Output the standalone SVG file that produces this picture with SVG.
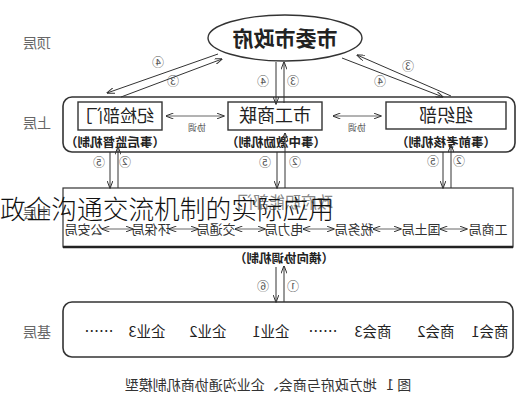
<svg xmlns="http://www.w3.org/2000/svg" width="527" height="400" viewBox="0 0 527 400">
<defs>
<marker id="ah" viewBox="0 0 8 6" refX="7.5" refY="3" markerWidth="8" markerHeight="6" markerUnits="userSpaceOnUse" orient="auto-start-reverse">
<path d="M0,0 L8,3 L0,6" fill="none" stroke="#333" stroke-width="1"/>
</marker>
<style>
text{font-family:"Noto Sans CJK SC","Noto Sans CJK JP",sans-serif;}
.lay{font-size:14px;fill:#666;text-anchor:middle;}
.box{fill:#fff;stroke:#333;stroke-width:1.4;}
.frame{fill:none;stroke:#333;stroke-width:1.6;}
.nm{font-size:18px;fill:#222;text-anchor:middle;}
.mech{font-size:12.5px;font-weight:bold;fill:#222;text-anchor:middle;}
.num{font-size:12px;fill:#555;text-anchor:middle;}
.xt{font-size:9px;fill:#555;text-anchor:middle;}
.dep{font-size:13px;fill:#333;text-anchor:middle;}
.base{font-size:14.5px;fill:#222;text-anchor:middle;}
.ln{stroke:#333;stroke-width:1;fill:none;}
.gl{stroke:#666;stroke-width:1;fill:none;}
</style>
</defs>
<rect width="527" height="400" fill="#fff"/>

<g id="layer-labels">
<text class="lay" transform="matrix(-1 0 0 1 74 0)" x="37" y="48">顶层</text>
<text class="lay" transform="matrix(-1 0 0 1 74 0)" x="37" y="128">上层</text>
<text class="lay" transform="matrix(-1 0 0 1 74 0)" x="37" y="218">中层</text>
<text class="lay" transform="matrix(-1 0 0 1 74 0)" x="37" y="337">基层</text>
</g>

<g id="gov">
<ellipse cx="285" cy="38" rx="77" ry="23" fill="#fff" stroke="#333" stroke-width="1.4"/>
<text class="nm" style="font-size:21px;font-weight:bold" transform="matrix(-1 0 0 1 570 0)" x="285" y="46">市委市政府</text>
</g>

<g id="upper">
<rect class="frame" x="63" y="97" width="452" height="55" rx="9"/>
</g>
<g id="jijian">
<rect class="box" x="78" y="102" width="84" height="28"/>
<text class="nm" style="font-size:17px" transform="matrix(-1 0 0 1 240 0)" x="120" y="122">纪检部门</text>
<text class="mech" transform="matrix(-1 0 0 1 230 0)" x="115" y="147">（事后监督机制）</text>
</g>
<g id="gongshanglian">
<rect class="box" x="228" y="102" width="94" height="28"/>
<text class="nm" transform="matrix(-1 0 0 1 550 0)" x="275" y="122">市工商联</text>
<text class="mech" transform="matrix(-1 0 0 1 552 0)" x="276" y="147">（事中激励机制）</text>
</g>
<g id="zuzhibu">
<rect class="box" x="386" y="102" width="120" height="27"/>
<text class="nm" transform="matrix(-1 0 0 1 892 0)" x="446" y="122">组织部</text>
<text class="mech" transform="matrix(-1 0 0 1 892 0)" x="446" y="147">（事前考核机制）</text>
</g>

<g id="middle">
<rect x="63" y="188" width="450" height="59" fill="#fff" stroke="#333" stroke-width="1.2"/>
<line x1="63" y1="247" x2="513" y2="247" stroke="#222" stroke-width="2.5"/>
<text style="font-size:16px;fill:#888;text-anchor:middle" transform="matrix(-1 0 0 1 570 0)" x="285" y="208">政府职能部门</text>
<text class="dep" transform="matrix(-1 0 0 1 168 0)" x="84" y="234">公安局</text>
<text class="dep" transform="matrix(-1 0 0 1 302 0)" x="151" y="234">环保局</text>
<text class="dep" transform="matrix(-1 0 0 1 432 0)" x="216" y="234">交通局</text>
<text class="dep" transform="matrix(-1 0 0 1 568 0)" x="284" y="234">电力局</text>
<text class="dep" transform="matrix(-1 0 0 1 708 0)" x="354" y="234">税务局</text>
<text class="dep" transform="matrix(-1 0 0 1 842 0)" x="421" y="234">国土局</text>
<text class="dep" transform="matrix(-1 0 0 1 976 0)" x="488" y="234">工商局</text>
<text class="mech" transform="matrix(-1 0 0 1 568 0)" x="284" y="263">（横向协调机制）</text>
</g>

<g id="base">
<rect class="frame" x="63" y="302" width="450" height="55" rx="9"/>
<text class="base" transform="matrix(-1 0 0 1 198 0)" x="99" y="337">……</text>
<text class="base" transform="matrix(-1 0 0 1 294 0)" x="147" y="337">企业3</text>
<text class="base" transform="matrix(-1 0 0 1 416 0)" x="208" y="337">企业2</text>
<text class="base" transform="matrix(-1 0 0 1 542 0)" x="271" y="337">企业1</text>
<text class="base" transform="matrix(-1 0 0 1 646 0)" x="323" y="337">……</text>
<text class="base" transform="matrix(-1 0 0 1 746 0)" x="373" y="337">商会3</text>
<text class="base" transform="matrix(-1 0 0 1 872 0)" x="436" y="337">商会2</text>
<text class="base" transform="matrix(-1 0 0 1 980 0)" x="490" y="337">商会1</text>
</g>

<g id="connectors">
<line class="ln" x1="218" y1="54" x2="107" y2="93" marker-end="url(#ah)"/>
<line class="ln" x1="121" y1="97" x2="222" y2="59" marker-end="url(#ah)"/>
<line class="ln" x1="276" y1="62" x2="276" y2="104" marker-end="url(#ah)"/>
<line class="ln" x1="284" y1="103" x2="284" y2="62" marker-end="url(#ah)"/>
<line class="ln" x1="451" y1="96" x2="357" y2="55" marker-end="url(#ah)"/>
<line class="ln" x1="342" y1="58" x2="443" y2="97" marker-end="url(#ah)"/>
<line class="gl" x1="166" y1="116" x2="224" y2="116" marker-start="url(#ah)" marker-end="url(#ah)"/>
<line class="gl" x1="333" y1="116" x2="381" y2="116" marker-start="url(#ah)" marker-end="url(#ah)"/>
<line class="ln" x1="110" y1="152" x2="110" y2="188" marker-end="url(#ah)"/>
<line class="ln" x1="118" y1="188" x2="118" y2="147" marker-end="url(#ah)"/>
<line class="ln" x1="277" y1="152" x2="277" y2="188" marker-end="url(#ah)"/>
<line class="ln" x1="285" y1="188" x2="285" y2="133" marker-end="url(#ah)"/>
<line class="ln" x1="443" y1="152" x2="443" y2="188" marker-end="url(#ah)"/>
<line class="ln" x1="451" y1="188" x2="451" y2="145" marker-end="url(#ah)"/>
<line class="ln" x1="276" y1="267" x2="276" y2="302" marker-end="url(#ah)"/>
<line class="ln" x1="284" y1="302" x2="284" y2="266" marker-end="url(#ah)"/>
<line class="gl" x1="102" y1="229" x2="133" y2="229" marker-start="url(#ah)" marker-end="url(#ah)"/>
<line class="gl" x1="169" y1="229" x2="198" y2="229" marker-start="url(#ah)" marker-end="url(#ah)"/>
<line class="gl" x1="235" y1="229" x2="265" y2="229" marker-start="url(#ah)" marker-end="url(#ah)"/>
<line class="gl" x1="303" y1="229" x2="334" y2="229" marker-start="url(#ah)" marker-end="url(#ah)"/>
<line class="gl" x1="373" y1="229" x2="401" y2="229" marker-start="url(#ah)" marker-end="url(#ah)"/>
<line class="gl" x1="440" y1="229" x2="467" y2="229" marker-start="url(#ah)" marker-end="url(#ah)"/>
<text class="xt" transform="matrix(-1 0 0 1 394 0)" x="197" y="131">协调</text>
<text class="xt" transform="matrix(-1 0 0 1 714 0)" x="357" y="131">协调</text>
<text class="num" transform="matrix(-1 0 0 1 316 0)" x="158" y="67">④</text>
<text class="num" transform="matrix(-1 0 0 1 346 0)" x="173" y="86">③</text>
<text class="num" transform="matrix(-1 0 0 1 526 0)" x="263" y="86">④</text>
<text class="num" transform="matrix(-1 0 0 1 586 0)" x="293" y="86">③</text>
<text class="num" transform="matrix(-1 0 0 1 816 0)" x="408" y="71">③</text>
<text class="num" transform="matrix(-1 0 0 1 760 0)" x="380" y="86">④</text>
<text class="num" transform="matrix(-1 0 0 1 198 0)" x="99" y="167">⑤</text>
<text class="num" transform="matrix(-1 0 0 1 250 0)" x="125" y="167">②</text>
<text class="num" transform="matrix(-1 0 0 1 530 0)" x="265" y="167">⑤</text>
<text class="num" transform="matrix(-1 0 0 1 590 0)" x="295" y="167">②</text>
<text class="num" transform="matrix(-1 0 0 1 866 0)" x="433" y="166">⑤</text>
<text class="num" transform="matrix(-1 0 0 1 918 0)" x="459" y="166">②</text>
<text class="num" transform="matrix(-1 0 0 1 526 0)" x="263" y="291">⑥</text>
<text class="num" transform="matrix(-1 0 0 1 586 0)" x="293" y="291">①</text>
</g>

<text xml:space="preserve" style="font-size:14px;fill:#333;text-anchor:middle;white-space:pre" transform="matrix(-1 0 0 1 536 0)" x="268" y="390">图 1   地方政府与商会、企业沟通协商机制模型</text>

<text x="0" y="219" style="font-size:25.7px;fill:#111;font-family:'Noto Sans CJK SC','Noto Sans CJK JP',sans-serif;font-weight:300">政企沟通交流机制的实际应用</text>
</svg>
